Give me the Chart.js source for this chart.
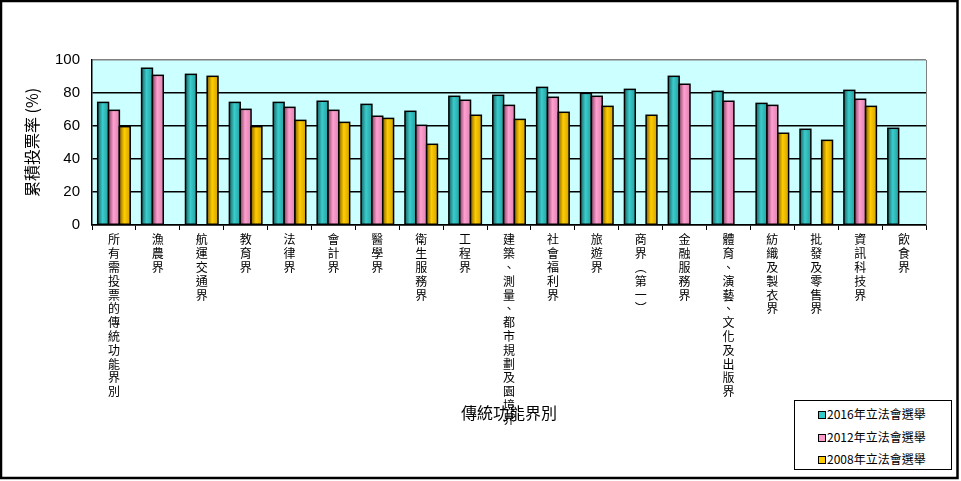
<!DOCTYPE html>
<html>
<head>
<meta charset="utf-8">
<script src="https://cdn.jsdelivr.net/npm/chart.js@4.4.1/dist/chart.umd.min.js"></script>
<style>
  body { margin: 0; background: #fff; }
  #caixa { position: relative; width: 961px; height: 481px; }
  #legenda {
    position: absolute; left: 794px; top: 400px; width: 156px; height: 68px;
    border: 1px solid #000; background: #fff;
    font: 12px "Noto Sans CJK TC", sans-serif; color: #000;
  }
  .item { position: absolute; left: 23px; height: 16px; line-height: 16px; white-space: nowrap; }
  .item span { display: inline-block; width: 6px; height: 6px; border: 1px solid #000; margin-right: 1px; vertical-align: 0px; }
</style>
</head>
<body>
<div id="caixa">
  <canvas id="grafico" width="961" height="481"></canvas>
  <div id="legenda"></div>
</div>
<script>
// categorias (texto vertical, um caractere por linha)
const categorias = [
  "所有需投票的傳統功能界別", "漁農界", "航運交通界", "教育界", "法律界", "會計界",
  "醫學界", "衛生服務界", "工程界", "建築、測量、都市規劃及園境界", "社會福利界", "旅遊界",
  "商界︵第一︶", "金融服務界", "體育、演藝、文化及出版界", "紡織及製衣界", "批發及零售界",
  "資訊科技界", "飲食界"
];
const serie2016 = [74.3, 95.0, 91.3, 74.3, 74.3, 75.0, 73.1, 68.9, 78.0, 78.6, 83.4, 79.8, 82.2, 90.1, 81.0, 73.7, 58.0, 81.6, 58.6];
const serie2012 = [69.5, 90.7, null, 70.1, 71.3, 69.5, 65.9, 60.4, 75.6, 72.5, 77.4, 78.0, null, 85.3, 75.0, 72.5, null, 76.2, null];
const serie2008 = [59.6, null, 90.1, 59.6, 63.4, 62.2, 64.6, 48.9, 66.5, 64.0, 68.3, 71.9, 66.5, null, null, 55.6, 51.3, 71.9, null];
const nomesSeries = ["2016年立法會選舉", "2012年立法會選舉", "2008年立法會選舉"];
const ticksY = [0, 20, 40, 60, 80, 100];

// cores: [escura, clara, media, legenda]
const cores = [
  ["#1a6464", "#3acccc", "#27a0a0", "#33cccc"],
  ["#844466", "#ff9fcf", "#dc84b4", "#ff99cc"],
  ["#846200", "#ffcc00", "#d1a400", "#ffcc00"]
];

const fonteCJK = '"Noto Sans CJK TC", sans-serif';

// fundo da area do grafico, moldura e titulo do eixo x
const fundoPlugin = {
  id: 'fundo',
  beforeDraw(chart) {
    const { ctx, chartArea: a } = chart;
    ctx.save();
    ctx.fillStyle = '#ccffff';
    ctx.fillRect(a.left, a.top, a.right - a.left, a.bottom - a.top);
    ctx.restore();
  },
  afterDraw(chart) {
    const { ctx, chartArea: a } = chart;
    ctx.save();
    ctx.strokeStyle = '#808080';
    ctx.lineWidth = 1;
    ctx.beginPath();
    ctx.moveTo(a.right + 0.5, a.top);
    ctx.lineTo(a.right + 0.5, a.bottom);
    ctx.stroke();
    // titulo do eixo x por cima dos rotulos
    ctx.fillStyle = '#000';
    ctx.font = '16px ' + fonteCJK;
    ctx.textAlign = 'center';
    ctx.textBaseline = 'middle';
    ctx.fillText('傳統功能界別', (a.left + a.right) / 2, 413);
    // moldura externa
    ctx.strokeStyle = '#000';
    ctx.lineWidth = 2.5;
    ctx.strokeRect(1, 1, 956.5, 477);
    ctx.restore();
  }
};

// barras com degradê horizontal (efeito cilindro)
const barrasPlugin = {
  id: 'barras',
  afterDatasetsDraw(chart) {
    const ctx = chart.ctx;
    chart.data.datasets.forEach((ds, i) => {
      const meta = chart.getDatasetMeta(i);
      meta.data.forEach((bar, j) => {
        if (ds.data[j] === null) return;
        const x0 = bar.x - bar.width / 2;
        const w = bar.width;
        const h = bar.base - bar.y;
        const g = ctx.createLinearGradient(x0, 0, x0 + w, 0);
        g.addColorStop(0, cores[i][0]);
        g.addColorStop(0.45, cores[i][1]);
        g.addColorStop(1, cores[i][2]);
        ctx.save();
        ctx.fillStyle = g;
        ctx.fillRect(x0, bar.y, w, h);
        ctx.strokeStyle = '#000';
        ctx.lineWidth = 1.5;
        ctx.strokeRect(x0, bar.y, w, h);
        ctx.restore();
      });
    });
  }
};

const graficoEl = document.getElementById('grafico');
const grafico = new Chart(graficoEl, {
  type: 'bar',
  data: {
    labels: categorias.map(c => Array.from(c)),
    datasets: [serie2016, serie2012, serie2008].map((d, i) => ({
      label: nomesSeries[i],
      data: d,
      backgroundColor: 'rgba(0,0,0,0)',
      borderWidth: 0,
      barPercentage: 1.0,
      categoryPercentage: 0.74
    }))
  },
  options: {
    responsive: false,
    animation: false,
    layout: { padding: { top: 60, right: 35, left: 0, bottom: 0 } },
    plugins: { legend: { display: false }, tooltip: { enabled: false } },
    scales: {
      x: {
        afterFit(scale) { scale.height = 256; },
        grid: { drawOnChartArea: false, drawTicks: true, tickLength: 5, color: '#000', offset: true },
        border: { color: '#000', width: 1.5 },
        ticks: {
          autoSkip: false, maxRotation: 0, minRotation: 0, padding: 3, color: '#000',
          font: { family: fonteCJK, size: 12, lineHeight: 13.8 / 12 }
        }
      },
      y: {
        min: 0, max: 100,
        afterFit(scale) { scale.width = 92; },
        afterBuildTicks(scale) { scale.ticks = ticksY.map(v => ({ value: v })); },
        grid: {
          drawTicks: false,
          lineWidth: 1.5,
          color: c => (c.tick && c.tick.value === 100) ? '#808080' : '#000'
        },
        border: { color: '#000', width: 1.5 },
        ticks: { padding: 12, color: '#000', font: { family: '"Liberation Sans", Arial', size: 15 } },
        title: {
          display: true, text: '累積投票率 (%)', color: '#000',
          font: { family: fonteCJK, size: 16 }, padding: { top: 22, bottom: 0 }
        }
      }
    }
  },
  plugins: [fundoPlugin, barrasPlugin]
});

// legenda em html
const legenda = document.getElementById('legenda');
nomesSeries.forEach((nome, i) => {
  const item = document.createElement('div');
  item.className = 'item';
  item.style.top = (5 + i * 22.5) + 'px';
  item.innerHTML = '<span style="background:' + cores[i][3] + '"></span>' + nome;
  legenda.appendChild(item);
});
</script>
</body>
</html>
